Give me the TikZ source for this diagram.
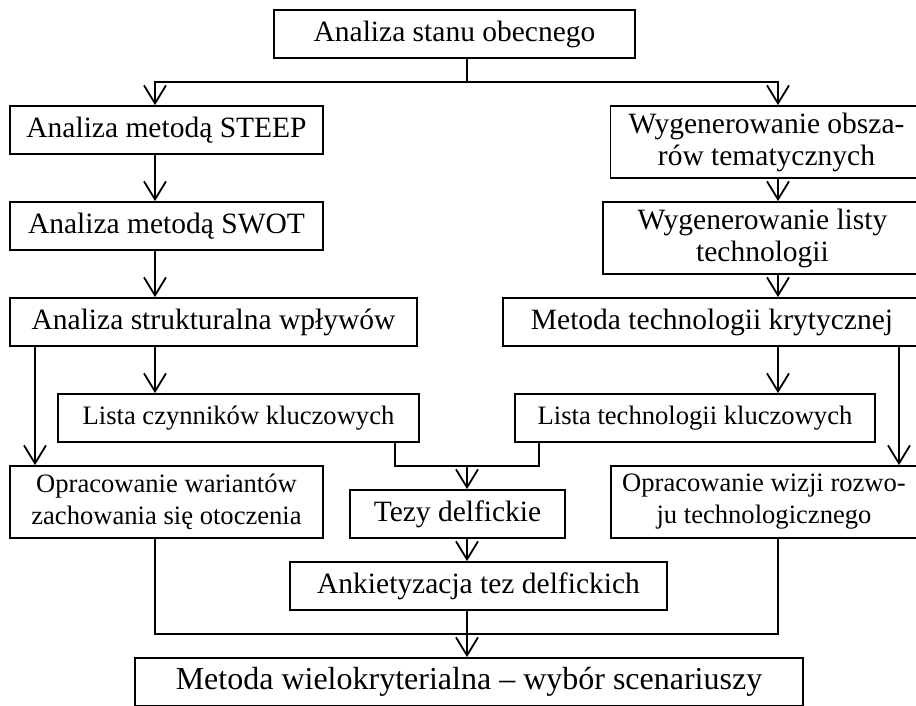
\documentclass[tikz,border=0pt]{standalone}
\usepackage{fontspec}
\setmainfont{Liberation Serif}
\usetikzlibrary{arrows.meta,calc,positioning}

\begin{document}
\begin{tikzpicture}[x=1pt,y=-1pt,
		box/.style={draw,line width=1.8pt,inner sep=0pt,align=center,minimum height=48pt},
		tall/.style={minimum height=72pt},
		big/.style={font=\fontsize{29.5}{32}\selectfont},
		small/.style={font=\fontsize{26.6}{32}\selectfont},
		huge/.style={font=\fontsize{32}{34}\selectfont},
		line/.style={line width=1.8pt},
		arr/.style={line,-{Straight Barb[length=18pt,width=22pt]}}]
		\useasboundingbox (0,0) rectangle (916,706);
		\clip (0,0) rectangle (916,706);
		% left column
		\node[box,big,minimum width=361pt] (stan) at (454.5,34) {Analiza stanu obecnego};
		\node[box,big,minimum width=313pt] (steep) at (166.5,130) {Analiza metodą STEEP};
		\node[box,big,minimum width=313pt] (swot) at (166.5,226) {Analiza metodą SWOT};
		\node[box,big,minimum width=407pt] (struk) at (213.5,322) {Analiza strukturalna wpływów};
		\node[box,small,minimum width=361pt] (czyn) at (238.5,418) {Lista czynników kluczowych};
		\node[box,small,tall,minimum width=313pt] (warianty) at (166.5,502) {Opracowanie wariantów\\zachowania się otoczenia};
		% right column
		\node[box,big,tall,minimum width=312pt] (obszary) at (766.5,142) {Wygenerowanie obsza-\\rów tematycznych};
		\node[box,big,tall,minimum width=319pt] (listy) at (762.5,238) {Wygenerowanie listy\\technologii};
		\node[box,big,minimum width=418pt] (kryt) at (712,322) {Metoda technologii krytycznej};
		\node[box,small,minimum width=360pt] (techkl) at (695,418) {Lista technologii kluczowych};
		\node[box,small,tall,minimum width=306pt] (wizja) at (764,502) {Opracowanie wizji rozwo-\\ju technologicznego};
		% middle
		\node[box,big,minimum width=215pt] (tezy) at (457.5,514) {Tezy delfickie};
		\node[box,big,minimum width=377pt] (ankieta) at (478.5,586) {Ankietyzacja tez delfickich};
		\node[box,huge,minimum width=668pt] (wielo) at (469,682) {Metoda wielokryterialna – wybór scenariuszy};
		% columns of the connectors
		\coordinate (colLL) at (35,0);
		\coordinate (colL) at (155,0);
		\coordinate (colM) at (467,0);
		\coordinate (colR) at (778,0);
		\coordinate (colRR) at (899,0);
		\coordinate (czynX) at (395,0);
		\coordinate (techX) at (539,0);
		\coordinate (split) at (467,82);
		\coordinate (join) at (467,466);
		\coordinate (merge) at (467,634);
		% connectors
		\draw[line] (stan.south -| colM) -- (split);
		\draw[arr] (split) -| (steep.north -| colL);
		\draw[arr] (split) -| (obszary.north -| colR);
		\draw[arr] (steep.south -| colL) -- (swot.north -| colL);
		\draw[arr] (swot.south -| colL) -- (struk.north -| colL);
		\draw[arr] (struk.south -| colLL) -- (warianty.north -| colLL);
		\draw[arr] (struk.south -| colL) -- (czyn.north -| colL);
		\draw[arr] (obszary.south -| colR) -- (listy.north -| colR);
		\draw[arr] (listy.south -| colR) -- (kryt.north -| colR);
		\draw[arr] (kryt.south -| colR) -- (techkl.north -| colR);
		\draw[arr] (kryt.south -| colRR) -- (wizja.north -| colRR);
		\draw[line] (czyn.south -| czynX) |- (join) -| (techkl.south -| techX);
		\draw[arr] (join) -- (tezy.north -| colM);
		\draw[arr] (tezy.south -| colM) -- (ankieta.north -| colM);
		\draw[arr] (ankieta.south -| colM) -- (wielo.north -| colM);
		\draw[line] (warianty.south -| colL) |- (merge) -| (wizja.south -| colR);
		\end{tikzpicture}
\end{document}
